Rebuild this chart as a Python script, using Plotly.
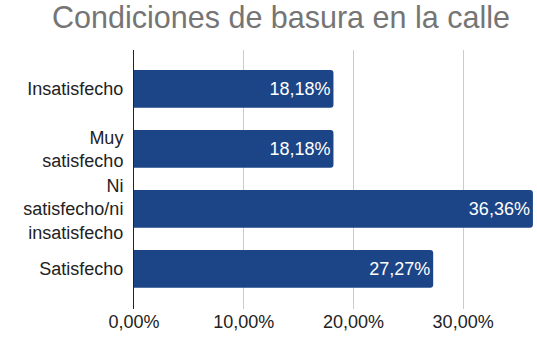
import plotly.graph_objects as go

# Survey results: street garbage conditions
categories = ["Insatisfecho", "Muy<br>satisfecho", "Ni<br>satisfecho/ni<br>insatisfecho", "Satisfecho"]
values = [18.18, 18.18, 36.36, 27.27]
tick_vals = [0, 10, 20, 30]
tick_text = ["0,00%", "10,00%", "20,00%", "30,00%"]

labels = [f"{v:.2f}".replace(".", ",") + "%" for v in values]

FONT = "Liberation Sans, Arial, sans-serif"

fig = go.Figure(
    go.Bar(
        y=categories,
        x=values,
        orientation="h",
        marker=dict(color="#1c4587", line=dict(width=0)),
        text=labels,
        textposition="inside",
        insidetextanchor="end",
        textfont=dict(family=FONT, size=18, color="white"),
        textangle=0,
        width=0.63,
    )
)

fig.update_layout(
    width=537,
    height=337,
    margin=dict(l=134, r=2, t=50, b=28),
    paper_bgcolor="white",
    plot_bgcolor="white",
    barcornerradius=3,
    showlegend=False,
    title=dict(
        text="Condiciones de basura en la calle",
        font=dict(family=FONT, size=30.5, color="#757575"),
        x=281 / 537,
        xanchor="center",
        yref="container",
        y=1,
        yanchor="top",
        pad=dict(t=7),
    ),
    xaxis=dict(
        range=[0, 36.55],
        automargin=False,
        tickvals=tick_vals,
        ticktext=tick_text,
        tickfont=dict(family=FONT, size=18, color="#222222"),
        showgrid=True,
        gridcolor="#cccccc",
        gridwidth=1,
        zeroline=False,
        showline=False,
        ticks="",
    ),
    yaxis=dict(
        autorange=False,
        automargin=False,
        range=[3.67, -0.65],
        tickfont=dict(family=FONT, size=18, color="#222222"),
        showgrid=False,
        zeroline=False,
        showline=True,
        linecolor="#222222",
        linewidth=1,
        ticks="",
        ticklabelstandoff=6,
    ),
)

fig.write_html("out.html")
